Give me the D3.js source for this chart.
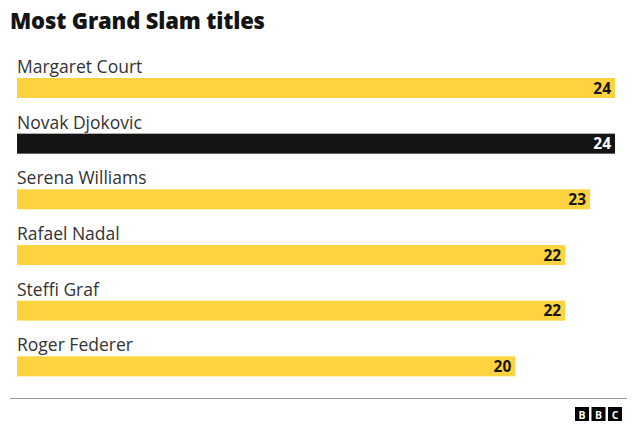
<!DOCTYPE html>
<html>
<head>
<meta charset="utf-8">
<script src="https://cdn.jsdelivr.net/npm/d3@7"></script>
<style>
  body { margin: 0; background: #fff; }
  svg { display: block; font-family: "Open Sans", "Noto Sans", sans-serif; }
</style>
</head>
<body>
<div id="chart"></div>
<script>
// Data
var players = ["Margaret Court", "Novak Djokovic", "Serena Williams", "Rafael Nadal", "Steffi Graf", "Roger Federer"];
var titles = [24, 24, 23, 22, 22, 20];
var highlight = ["Novak Djokovic"];

var width = 640, height = 436;

var svg = d3.select("#chart").append("svg")
    .attr("width", width)
    .attr("height", height);

svg.append("text")
    .attr("x", 10)
    .attr("y", 29)
    .attr("font-size", 22)
    .attr("font-weight", 800)
    .attr("fill", "#141414")
    .attr("letter-spacing", -0.15)
    .text("Most Grand Slam titles");

var x = d3.scaleLinear().domain([0, 24]).range([17, 615]);
var y = d3.scaleBand().domain(players).range([61, 395]).paddingInner(0);

var rows = svg.selectAll(".row")
    .data(players.map(function(p, i) { return { name: p, value: titles[i] }; }))
    .enter().append("g")
    .attr("class", "row")
    .attr("transform", function(d) { return "translate(0," + y(d.name) + ")"; });

rows.append("text")
    .attr("x", 17)
    .attr("y", 12)
    .attr("font-size", 17.5)
    .attr("fill", "#333")
    .text(function(d) { return d.name; });

rows.append("rect")
    .attr("x", x(0))
    .attr("y", 17)
    .attr("height", 20)
    .attr("width", function(d) { return x(d.value) - x(0); })
    .attr("fill", function(d) { return highlight.indexOf(d.name) >= 0 ? "#141414" : "#fdd43f"; });

rows.append("text")
    .attr("x", function(d) { return x(d.value) - 4; })
    .attr("y", 32.5)
    .attr("text-anchor", "end")
    .attr("font-size", 15.5)
    .attr("font-weight", 700)
    .attr("fill", function(d) { return highlight.indexOf(d.name) >= 0 ? "#fff" : "#141414"; })
    .text(function(d) { return d.value; });

// footer rule
svg.append("line")
    .attr("x1", 10).attr("x2", 627)
    .attr("y1", 398.5).attr("y2", 398.5)
    .attr("stroke", "#999")
    .attr("stroke-width", 1.2);

// BBC blocks
var letters = ["B", "B", "C"];
var logo = svg.selectAll(".logo")
    .data(letters)
    .enter().append("g")
    .attr("transform", function(d, i) { return "translate(" + (575 + i * 16.5) + ",407)"; });
logo.append("rect").attr("width", 14).attr("height", 14).attr("fill", "#000");
logo.append("text")
    .attr("x", 7).attr("y", 11.5)
    .attr("text-anchor", "middle")
    .attr("font-size", 10.5)
    .attr("font-weight", 700)
    .attr("fill", "#fff")
    .text(function(d) { return d; });
</script>
</body>
</html>
